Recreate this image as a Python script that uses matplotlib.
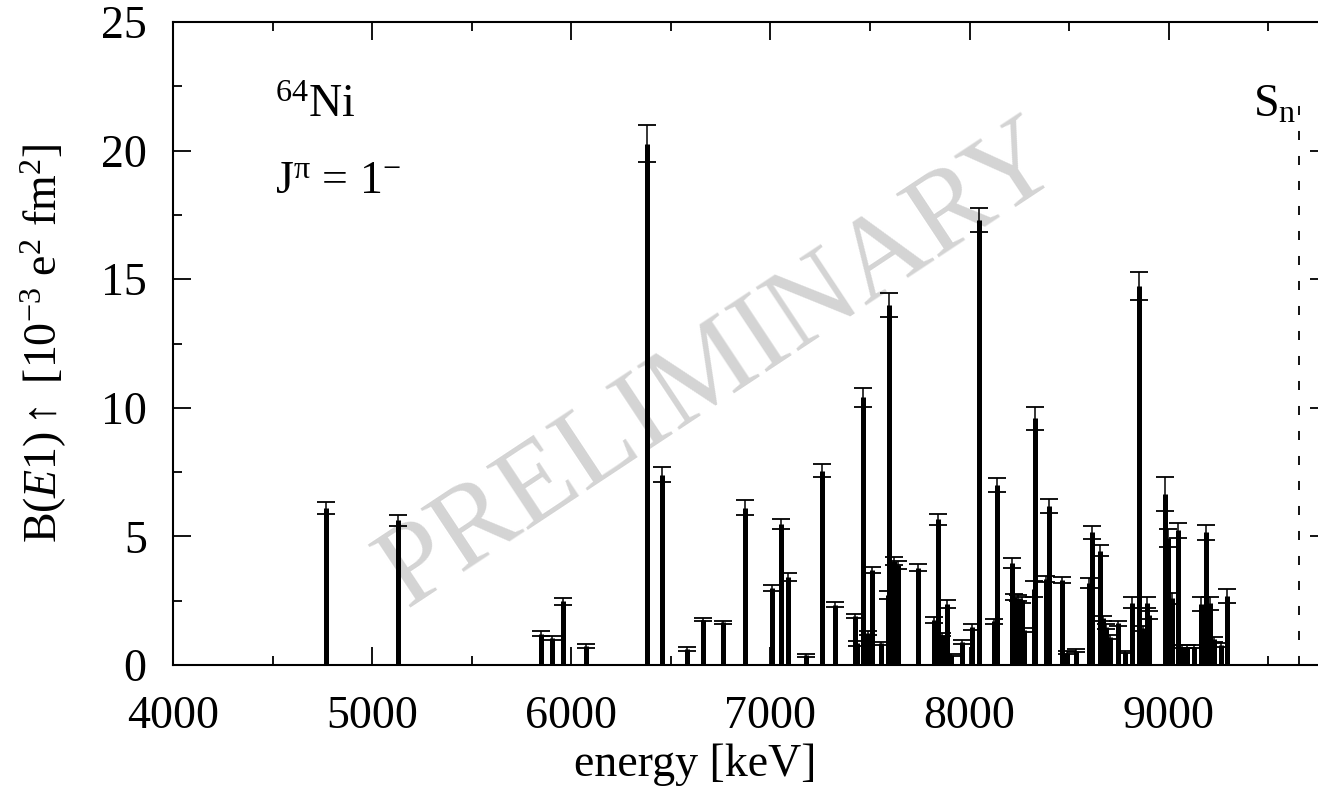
#!/usr/bin/env python3

import matplotlib as mpl
import matplotlib.pyplot as plt
from matplotlib.ticker import MultipleLocator

# E1 strength distribution of 64Ni below the neutron separation energy.
energy = [
    4766, 5131, 5846, 5905, 5960, 6072, 6382, 6457, 6581, 6661,
    6763, 6873, 7009, 7052, 7086, 7178, 7258, 7323, 7427, 7437,
    7464, 7489, 7509, 7556, 7589, 7597, 7622, 7639, 7742, 7820,
    7840, 7863, 7885, 7907, 7962, 8011, 8049, 8122, 8140, 8213,
    8225, 8245, 8262, 8275, 8322, 8331, 8384, 8397, 8464, 8487,
    8534, 8601, 8614, 8655, 8668, 8685, 8705, 8743, 8780, 8814,
    8852, 8869, 8890, 8902, 8981, 8998, 9016, 9047, 9069, 9094,
    9128, 9163, 9188, 9205, 9228, 9262, 9292,
]
b_e1 = [
    6.10, 5.62, 1.22, 1.06, 2.48, 0.75, 20.27, 7.40, 0.62, 1.76,
    1.66, 6.12, 3.00, 5.47, 3.43, 0.37, 7.55, 2.34, 1.90, 0.84,
    10.42, 1.25, 3.70, 0.84, 2.72, 14.00, 4.03, 3.89, 3.79, 1.75,
    5.67, 1.17, 2.37, 0.39, 0.91, 1.47, 17.30, 1.70, 7.00, 3.97,
    2.66, 2.59, 2.53, 1.35, 2.95, 9.60, 3.33, 6.19, 3.30, 0.48,
    0.56, 3.18, 5.16, 4.44, 1.81, 1.49, 1.10, 1.62, 0.50, 2.43,
    14.75, 1.43, 2.43, 1.94, 6.65, 4.93, 2.59, 5.23, 0.71, 0.71,
    0.71, 2.37, 5.16, 2.40, 1.00, 0.78, 2.70,
]
b_e1_err = [
    0.23, 0.21, 0.09, 0.08, 0.13, 0.08, 0.72, 0.30, 0.09, 0.06,
    0.06, 0.30, 0.12, 0.20, 0.15, 0.06, 0.25, 0.10, 0.09, 0.10,
    0.37, 0.08, 0.13, 0.05, 0.16, 0.48, 0.16, 0.15, 0.14, 0.10,
    0.22, 0.06, 0.16, 0.05, 0.08, 0.11, 0.45, 0.10, 0.27, 0.18,
    0.12, 0.12, 0.12, 0.08, 0.30, 0.45, 0.12, 0.27, 0.12, 0.05,
    0.05, 0.20, 0.26, 0.22, 0.10, 0.10, 0.08, 0.10, 0.05, 0.20,
    0.55, 0.10, 0.20, 0.15, 0.65, 0.36, 0.20, 0.28, 0.06, 0.06,
    0.06, 0.28, 0.30, 0.25, 0.10, 0.08, 0.27,
]

# neutron separation energy (keV)
s_n = 9655

xlim = (4000, 9800)
ylim = (0, 25)

serif = 'Liberation Serif'
fontsize = 33

mpl.rcParams['font.family'] = [serif, 'DejaVu Sans']
mpl.rcParams['mathtext.fontset'] = 'custom'
mpl.rcParams['mathtext.rm'] = serif
mpl.rcParams['mathtext.it'] = serif + ':italic'
mpl.rcParams['mathtext.bf'] = serif + ':bold'
mpl.rcParams['lines.scale_dashes'] = False


def plot_b_e1(fname):
    fig = plt.figure(figsize=(13.18, 8.10), dpi=100)
    # the right frame edge sits just past the canvas
    ax = fig.add_axes([0.1313, 0.179, 0.8763, 0.7938])

    ax.text(6750, 11.6, 'PRELIMINARY', rotation=33.5, fontsize=84,
            color='#d4d4d4', ha='center', va='center',
            rotation_mode='anchor', zorder=0)

    ax.vlines(energy, 0, b_e1, colors='black', linewidth=3.6, zorder=2)
    ax.errorbar(energy, b_e1, yerr=b_e1_err, fmt='none', ecolor='black',
                elinewidth=1.1, capsize=6.8, capthick=1.3, zorder=3)

    ax.plot([s_n, s_n], [0, 22], color='black', linewidth=1.3,
            linestyle=(0, (6.5, 11.5)), zorder=2)

    ax.text(4510, 21.3, r'$^{64}$Ni', fontsize=fontsize, ha='left',
            va='baseline')
    ax.text(4510, 18.35, r'J$^{\mathrm{π}}$ = 1$^{-}$', fontsize=fontsize,
            ha='left', va='baseline')
    ax.text(9640, 21.3, r'S$_\mathregular{n}$', fontsize=fontsize,
            ha='right', va='baseline')

    ax.set_xlim(*xlim)
    ax.set_ylim(*ylim)
    ax.xaxis.set_major_locator(MultipleLocator(1000))
    ax.xaxis.set_minor_locator(MultipleLocator(500))
    ax.yaxis.set_major_locator(MultipleLocator(5))
    ax.yaxis.set_minor_locator(MultipleLocator(2.5))

    ax.tick_params(which='both', direction='in', top=True, right=True,
                   width=1.3, labelsize=fontsize)
    ax.tick_params(which='major', length=13)
    ax.tick_params(which='minor', length=6.5)
    ax.tick_params(axis='x', pad=22)
    ax.tick_params(axis='y', pad=19)
    for spine in ax.spines.values():
        spine.set_linewidth(1.5)

    ax.set_xlabel('energy [keV]', fontsize=fontsize, va='center')
    ax.xaxis.set_label_coords(0.452, -0.1555)
    ax.set_ylabel(r'B($E1$)$\uparrow$ [10$^{-3}$ e$^{2}$ fm$^{2}$]',
                  fontsize=fontsize, va='center')
    ax.yaxis.set_label_coords(-0.1117, 0.5)

    fig.savefig(fname, dpi=100)


if __name__ == '__main__':
    plot_b_e1('out.png')
